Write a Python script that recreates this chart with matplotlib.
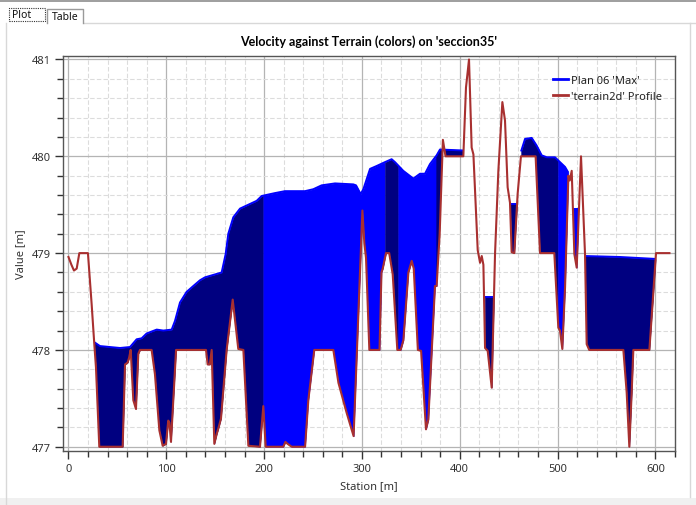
import numpy as np
import matplotlib
matplotlib.use("Agg")
import matplotlib.pyplot as plt
from matplotlib.lines import Line2D
from matplotlib.patches import Rectangle
from matplotlib.ticker import MultipleLocator

plt.rcParams['font.family'] = ['Noto Sans', 'DejaVu Sans']

# ---------------- data ----------------
title = "Velocity against Terrain (colors) on 'seccion35'"
xlabel = "Station [m]"
ylabel = "Value [m]"
legend_labels = ["Plan 06 'Max'", "'terrain2d' Profile"]

terrain_x = [0, 3, 5.6, 8.4, 11.1, 19.9, 23.7, 26.4, 28.1, 31.5, 55.4, 57.8, 60.5, 62, 63.6,
             66.3, 69.0, 71.4, 73.1, 85.0, 88.4, 92.9, 96.3, 99.7, 102.0, 103.2, 104.8, 110.0,
             140.6, 142.3, 144.5, 146.4, 149.1, 151.5, 153.5, 155.9, 161.7, 167.9, 173.6, 178.8,
             183.9, 195.8, 199.2, 201.6, 219.6, 221.8, 224.0, 228.2, 241.9, 245.2, 251.3, 270.8,
             276.0, 284.4, 291.5, 300.5, 302.5, 304.2, 307.6, 318.0, 320.0, 321.3, 324.6, 327.9,
             331.5, 336.2, 339.6, 342.4, 347.5, 350.9, 353.0, 357.2, 360.5, 362.0, 365.5, 367.9,
             374.7, 376.4, 379.5, 382.8, 385.5, 403.7, 406.4, 409.5, 412.2, 414.0, 418.4, 420.8,
             422.5, 424.2, 425.9, 428.6, 432.7, 436.1, 439.5, 443.6, 446.3, 449.0, 451.4, 453.1,
             455.8, 459.2, 462.6, 477.6, 482.1, 496.7, 500.8, 502.5, 504.9, 507.7, 511.1, 512.5,
             514.5, 517.2, 519.6, 524.0, 528.1, 529.8, 532.4, 567.3, 570.7, 573.4, 575.8, 577.5,
             593.9, 600.7, 614.4]
terrain_z = [478.96, 478.88, 478.82, 478.84, 479.0, 479.0, 478.47, 478.06, 477.82, 477.0, 477.0,
             477.85, 477.87, 477.92, 478.0, 477.48, 477.39, 477.96, 478.0, 478.0, 477.75, 477.17,
             477.01, 477.03, 477.27, 477.25, 477.05, 478.0, 478.0, 477.85, 477.85, 478.0, 477.03,
             477.13, 477.2, 477.29, 478.0, 478.52, 478.01, 478.0, 477.01, 477.0, 477.42, 477.0,
             477.0, 477.05, 477.03, 477.0, 477.0, 477.48, 478.0, 478.0, 477.66, 477.35, 477.11,
             479.44, 479.1, 478.95, 478.0, 478.0, 478.8, 478.84, 479.0, 479.0, 478.78, 478.0,
             478.0, 478.1, 478.8, 478.92, 478.84, 478.0, 477.99, 477.75, 477.18, 477.28, 478.66,
             478.66, 479.2, 480.17, 480.0, 480.0, 480.71, 481.0, 480.09, 480.02, 479.03, 478.9,
             478.97, 478.88, 478.02, 477.99, 477.61, 478.99, 479.85, 480.56, 480.37, 479.68,
             479.52, 479.01, 479.0, 479.61, 480.0, 480.0, 479.0, 479.0, 478.23, 478.2, 478.01,
             478.65, 479.8, 479.75, 479.85, 478.99, 478.85, 480.0, 478.99, 478.06, 478.0, 478.0,
             477.56, 477.0, 477.56, 478.0, 478.0, 479.0, 479.0]

# water surface (Plan 06 'Max'), one list per wetted reach
ws1_x = [26.4, 32.2, 42.4, 52.7, 62.9, 69.7, 74.8, 79.9, 85.0, 90.2, 97.0, 105.5, 108.9, 114.0,
         120.8, 127.6, 134.5, 139.6, 149.8, 156.6, 160.7, 163.4, 168.5, 175.4, 183.9, 192.4,
         197.5, 211.1, 221.3, 241.8, 250.3, 258.8, 272.5, 291.2, 294.0, 298.7, 301.5, 308.3,
         315.1, 323.6, 330.4, 333.8, 342.3, 352.6, 359.4, 364.5, 369.6, 376.4, 379.8, 403.7]
ws1_z = [478.08, 478.04, 478.03, 478.02, 478.03, 478.11, 478.12, 478.17, 478.19, 478.21, 478.2,
         478.21, 478.3, 478.49, 478.6, 478.66, 478.72, 478.75, 478.78, 478.8, 478.99, 479.2,
         479.37, 479.46, 479.5, 479.54, 479.59, 479.62, 479.64, 479.64, 479.66, 479.7, 479.72,
         479.71, 479.7, 479.61, 479.66, 479.87, 479.9, 479.94, 479.97, 479.94, 479.85, 479.77,
         479.82, 479.82, 479.92, 480.01, 480.07, 480.06]
ws2_x = [425.6, 434.9]
ws2_z = [478.55, 478.55]
ws3_x = [451.3, 458.9]
ws3_z = [479.51, 479.51]
ws4_x = [462.7, 466.8, 473.6, 478.7, 483.8, 489.0, 497.4, 502.5, 507.7, 511.1]
ws4_z = [480.05, 480.18, 480.19, 480.11, 480.01, 479.99, 479.99, 479.94, 479.89, 479.83]
ws5_x = [515.7, 521.0]
ws5_z = [479.46, 479.46]
ws6_x = [528.2, 563.9, 600.2]
ws6_z = [478.97, 478.96, 478.94]

# velocity colour bands (station edges and colour per band)
band_edges = [0, 199.2, 323.6, 337.2, 376.4, 500.5, 525.0, 620.0]
band_colors = ['#000080', '#0000FF', '#000080', '#0000FF', '#000080', '#0000FF', '#000080']

# ---------------- figure ----------------
W, H = 696, 506
fig = plt.figure(figsize=(W / 100, H / 100), dpi=100)
fig.patch.set_facecolor('white')

ax = fig.add_axes([63 / W, 1 - 452 / H, (675 - 63) / W, (452 - 57) / H])

tx = np.array(terrain_x)
tz = np.array(terrain_z)
reaches = [(ws1_x, ws1_z), (ws2_x, ws2_z), (ws3_x, ws3_z),
           (ws4_x, ws4_z), (ws5_x, ws5_z), (ws6_x, ws6_z)]

for wx, wz in reaches:
    wx = np.array(wx)
    wz = np.array(wz)
    for b0, b1, col in zip(band_edges[:-1], band_edges[1:], band_colors):
        lo, hi = max(b0, wx[0]), min(b1, wx[-1])
        if hi <= lo:
            continue
        pts = np.concatenate([[lo, hi], wx[(wx > lo) & (wx < hi)], tx[(tx > lo) & (tx < hi)]])
        g = np.unique(pts)
        gt = np.interp(g, tx, tz)
        gw = np.interp(g, wx, wz)
        ax.fill_between(g, gt, gw, where=gw >= gt, interpolate=True,
                        facecolor=col, edgecolor=col, linewidth=0.3, zorder=2)
    ax.plot(wx, wz, color='#0000FF', lw=1.4, zorder=3, solid_capstyle='butt')

ax.plot(tx, tz, color='#A83030', lw=1.5, zorder=4)

ax.set_xlim(-5.6, 620.1)
ax.set_ylim(476.956, 481.036)
ax.xaxis.set_major_locator(MultipleLocator(100))
ax.xaxis.set_minor_locator(MultipleLocator(20))
ax.yaxis.set_major_locator(MultipleLocator(1))
ax.yaxis.set_minor_locator(MultipleLocator(0.2))
ax.grid(which='major', color='#b4b4b4', lw=0.9, zorder=0)
ax.grid(which='minor', color='#dcdcdc', lw=0.8, ls=(0, (4, 2)), zorder=0)
ax.set_axisbelow(True)
ax.tick_params(which='major', length=6, width=1, color='#333333', labelsize=8,
               labelcolor='#333333', pad=3)
ax.tick_params(which='minor', length=4, width=1, color='#333333')
for s in ax.spines.values():
    s.set_color('#555555')
    s.set_linewidth(1)

ax.set_title(title, fontsize=9, fontweight='bold', color='#000000', pad=8,
             family=['Lato', 'DejaVu Sans'])
ax.set_xlabel(xlabel, fontsize=8, color='#333333', labelpad=4)
ax.set_ylabel(ylabel, fontsize=8, color='#333333', labelpad=4)

handles = [Line2D([], [], color='#0000FF', lw=2), Line2D([], [], color='#A83030', lw=2)]
leg = ax.legend(handles, legend_labels, loc='upper right', bbox_to_anchor=(0.99, 0.97),
                frameon=False, fontsize=8, handlelength=1.3, handletextpad=0.3,
                labelspacing=0.45, borderaxespad=0.2)
for t in leg.get_texts():
    t.set_color('#222222')

# ---------------- window chrome ----------------
fig.add_artist(Rectangle((0, 1 - 3 / H), 1, 3 / H, transform=fig.transFigure,
                         facecolor='#a0a0a0', edgecolor='none'))
fig.add_artist(Line2D([6 / W, 6 / W], [0, 1 - 24 / H], transform=fig.transFigure,
                      color='#d8d8d8', lw=1))
fig.add_artist(Line2D([690 / W, 690 / W], [8 / H, 1 - 24 / H], transform=fig.transFigure,
                      color='#d8d8d8', lw=1))
fig.add_artist(Rectangle((0, 0), 1, 7 / H, transform=fig.transFigure,
                         facecolor='#f0f0f0', edgecolor='none'))
fig.add_artist(Line2D([84 / W, 1], [1 - 24 / H, 1 - 24 / H], transform=fig.transFigure,
                      color='#d8d8d8', lw=1))
# tabs
fig.add_artist(Line2D([47 / W, 47 / W, 83 / W, 83 / W],
                      [1 - 24 / H, 1 - 10 / H, 1 - 10 / H, 1 - 24 / H],
                      transform=fig.transFigure, color='#9a9a9a', lw=1))
fig.add_artist(Rectangle((9 / W, 1 - 22 / H), 36 / W, 13 / H, transform=fig.transFigure,
                         facecolor='none', edgecolor='#333333', lw=0.8, ls=(0, (1, 1))))
fig.text(12 / W, 1 - 16 / H, "Plot", fontsize=7.5, va='center', ha='left', color='#111111')
fig.text(52 / W, 1 - 17 / H, "Table", fontsize=7.5, va='center', ha='left', color='#111111')

fig.savefig("out.png", dpi=100)
